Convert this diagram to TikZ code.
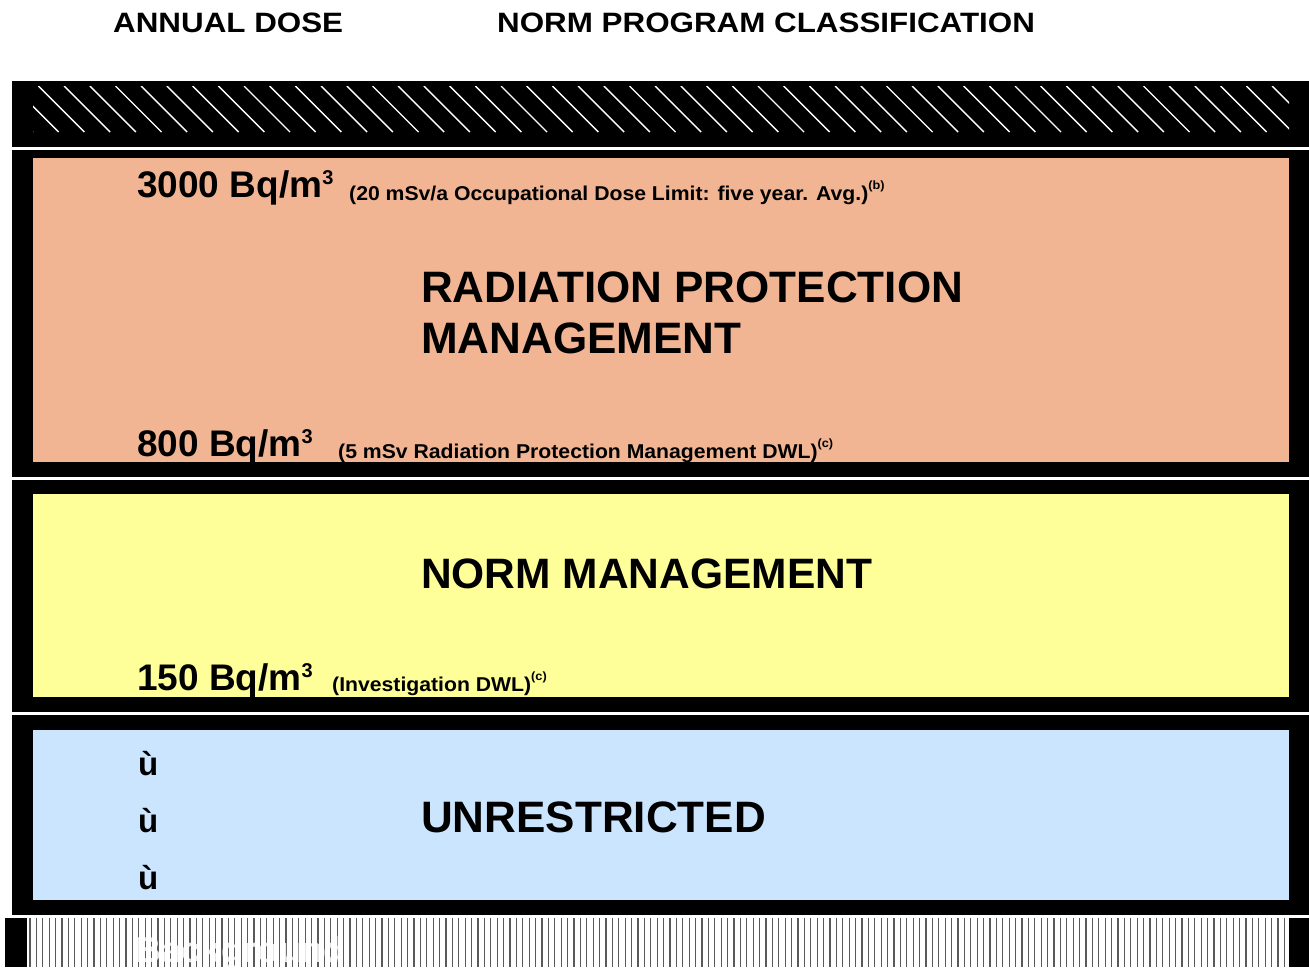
\documentclass[tikz,border=0pt]{standalone}
\usepackage{fontspec}
\setmainfont{Liberation Sans}
\newfontfamily\widefont[FakeStretch=1.12]{Liberation Sans}
\newfontfamily\notefont[FakeStretch=1.06]{Liberation Sans}
\definecolor{rpmcol}{RGB}{242,181,148}
\definecolor{normcol}{RGB}{255,255,153}
\definecolor{unrcol}{RGB}{204,229,255}
\newcommand\fsz[1]{\fontsize{#1}{#1}\selectfont}
\newcommand\mysup[3]{\raisebox{#2pt}{\fsz{#1}#3}}
\begin{document}
\begin{tikzpicture}[x=1pt,y=-1pt,
  every node/.style={inner sep=0pt, anchor=base west},
  headtxt/.style={font=\widefont\fsz{28}\bfseries},
  bigtxt/.style={font=\fsz{44}\bfseries},
  dosetxt/.style={font=\fsz{37}\bfseries},
  notetxt/.style={font=\notefont\fsz{20}\bfseries},
  marktxt/.style={font=\fsz{33}\bfseries},
  bandfill/.style={fill=black},
  hatchline/.style={draw=white, line width=1.4pt},
  stripeline/.style={draw=black!65, line width=1.2pt}]
\useasboundingbox (0,0) rectangle (1309,970);
% headings
\node[headtxt] (hdose) at (113,32) {ANNUAL DOSE};
\node[headtxt] (hclass) at (497,32) {NORM PROGRAM CLASSIFICATION};
% black frames
\fill[bandfill] (12,81) rectangle (1309,147);
\fill[bandfill] (12,150) rectangle (1309,477);
\fill[bandfill] (12,480) rectangle (1309,712);
\fill[bandfill] (12,715) rectangle (1309,915);
\fill[bandfill] (5,918) rectangle (1309,967);
% top hatch
\begin{scope}
\clip (33,86) rectangle (1289,132);
\foreach \i in {0,...,51} \draw[hatchline] ({-13+25.7*\i},86) -- ++(46,46);
\end{scope}
% coloured zones
\fill[rpmcol] (33,158) rectangle (1289,462);
\fill[normcol] (33,494) rectangle (1289,697);
\fill[unrcol] (33,730) rectangle (1289,900);
% background stripes
\fill[white] (27,918) rectangle (1289,967);
\foreach \i in {0,...,196} \draw[stripeline] ({30+6.4*\i},918) -- ++(0,49);
\node[font=\fsz{36}\bfseries, text=white, text opacity=0.85] (bg) at (135,962) {Background};
% texts
\node[dosetxt] (d3000) at (137,197) {3000 Bq/m\mysup{20}{13}{3}};
\node[notetxt] (n3000) at (349,200) {(20 mSv/a Occupational Dose Limit: five year. Avg.)\mysup{12}{11}{(b)}};
\node[bigtxt] (rpm1) at (421,302) {RADIATION PROTECTION};
\node[bigtxt] (rpm2) at (421,353) {MANAGEMENT};
\node[dosetxt] (d800) at (137,456) {800 Bq/m\mysup{20}{13}{3}};
\node[notetxt] (n800) at (338,458) {(5 mSv Radiation Protection Management DWL)\mysup{12}{11}{(c)}};
\node[bigtxt, font=\fsz{42.5}\bfseries] (normm) at (421,588) {NORM MANAGEMENT};
\node[dosetxt] (d150) at (137,690) {150 Bq/m\mysup{20}{13}{3}};
\node[notetxt] (n150) at (332,691) {(Investigation DWL)\mysup{12}{11}{(c)}};
\node[marktxt] (u1) at (138,775) {ù};
\node[marktxt] (u2) at (138,832) {ù};
\node[marktxt] (u3) at (138,889) {ù};
\node[bigtxt] (unr) at (421,832) {UNRESTRICTED};
\end{tikzpicture}
\end{document}
